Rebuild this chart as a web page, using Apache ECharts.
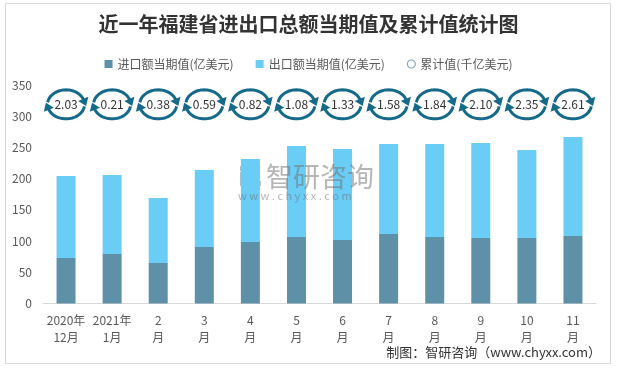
<!DOCTYPE html>
<html>
<head>
<meta charset="utf-8">
<script src="https://cdn.jsdelivr.net/npm/echarts@6/dist/echarts.min.js"></script>
<style>
html,body{margin:0;padding:0;background:#fff;}
#chart{width:617px;height:369px;}
</style>
</head>
<body>
<div id="chart"></div>
<script>
// ---- data ----
const categories = ['2020年\n12月','2021年\n1月','2\n月','3\n月','4\n月','5\n月','6\n月','7\n月','8\n月','9\n月','10\n月','11\n月'];
const importValues = [72.9, 79.3, 64.9, 90.5, 98.5, 106.5, 101.7, 111.3, 106.5, 104.9, 104.9, 108.1];
const exportValues = [131.3, 126.5, 104.1, 123.3, 133.0, 145.8, 145.8, 144.2, 149.0, 152.1, 141.0, 158.6];
const cumulativeValues = [2.03, 0.21, 0.38, 0.59, 0.82, 1.08, 1.33, 1.58, 1.84, 2.10, 2.35, 2.61];
const yTicks = [0, 50, 100, 150, 200, 250, 300, 350];

const ICON_Y = 319; // vertical placement of the cycle icons (axis units)
const ICON_COLOR = '#17698a';
const FONT = '"Noto Sans CJK SC", "Noto Sans", sans-serif';

function ellPt(cx, cy, rx, ry, t) {
  return [cx + rx * Math.cos(t), cy - ry * Math.sin(t)];
}
function arcWithHead(cx, cy, rx, ry, t0, t1) {
  const pts = [];
  const n = 30;
  for (let i = 0; i <= n; i++) {
    const t = t0 + (t1 - t0) * i / n;
    pts.push(ellPt(cx, cy, rx, ry, t));
  }
  const P = ellPt(cx, cy, rx, ry, t1);
  let dx = rx * Math.sin(t1), dy = ry * Math.cos(t1);
  const L = Math.hypot(dx, dy); dx /= L; dy /= L;
  const nx = -dy, ny = dx;
  const tip = [P[0] + dx * 6.5, P[1] + dy * 6.5];
  const bc = [P[0] - dx * 1, P[1] - dy * 1];
  const head = [tip, [bc[0] + nx * 5.5, bc[1] + ny * 5.5], [bc[0] - nx * 5.5, bc[1] - ny * 5.5]];
  return [
    {type: 'polyline', shape: {points: pts}, style: {stroke: ICON_COLOR, lineWidth: 3, fill: null}},
    {type: 'polygon', shape: {points: head}, style: {fill: ICON_COLOR}}
  ];
}

const chart = echarts.init(document.getElementById('chart'), null, {renderer: 'canvas'});
const deg = Math.PI / 180;

const option = {
  backgroundColor: '#fff',
  animation: false,
  title: {
    text: '近一年福建省进出口总额当期值及累计值统计图',
    left: 'center', top: 9,
    textStyle: {fontFamily: FONT, fontSize: 20, fontWeight: 'bold', color: '#333'}
  },
  legend: {
    top: 53, left: 'center',
    itemWidth: 8, itemHeight: 8, itemGap: 22,
    textStyle: {fontFamily: FONT, fontSize: 12, color: '#595959'},
    data: [
      {name: '进口额当期值(亿美元)', icon: 'rect'},
      {name: '出口额当期值(亿美元)', icon: 'rect'},
      {name: '累计值(千亿美元)', icon: 'circle', itemStyle: {color: '#ffffff', borderColor: '#8fa8bb', borderWidth: 1.2}}
    ]
  },
  grid: {left: 43, right: 21, top: 85, bottom: 65.5},
  xAxis: {
    type: 'category', data: categories,
    axisLine: {lineStyle: {color: '#d9d9d9'}},
    axisTick: {show: false},
    axisLabel: {fontFamily: FONT, fontSize: 12, color: '#595959', lineHeight: 17, interval: 0, margin: 8}
  },
  yAxis: {
    type: 'value', min: yTicks[0], max: yTicks[yTicks.length - 1], interval: 50,
    axisLine: {show: false}, axisTick: {show: false}, splitLine: {show: false},
    axisLabel: {fontFamily: FONT, fontSize: 12, color: '#595959', margin: 11}
  },
  series: [
    {name: '进口额当期值(亿美元)', type: 'bar', stack: 't', barWidth: 19, data: importValues, itemStyle: {color: '#5e91a8'}},
    {name: '出口额当期值(亿美元)', type: 'bar', stack: 't', barWidth: 19, data: exportValues, itemStyle: {color: '#6acdf5'}},
    {
      name: '累计值(千亿美元)', type: 'custom',
      itemStyle: {color: '#8fa8bb'},
      data: cumulativeValues.map((v, i) => [i, v]),
      renderItem: function (params, api) {
        const c = api.coord([api.value(0), ICON_Y]);
        const cx = c[0], cy = c[1], rx = 18.5, ry = 14.5;
        const children = []
          .concat(arcWithHead(cx, cy, rx, ry, 172 * deg, 18 * deg))
          .concat(arcWithHead(cx, cy, rx, ry, -8 * deg, -162 * deg));
        children.push({
          type: 'text',
          style: {
            text: Number(api.value(1)).toFixed(2), x: cx, y: cy,
            align: 'center', verticalAlign: 'middle',
            fontFamily: FONT, fontSize: 12, fill: '#333'
          }
        });
        return {type: 'group', children: children};
      }
    }
  ],
  graphic: [
    {type: 'rect', shape: {x: 5.5, y: 3.5, width: 605, height: 360}, style: {fill: null, stroke: '#d9d9d9', lineWidth: 1}, z: -1},
    // watermark
    {type: 'group', left: 240, top: 166, z: 50, children: [
      {type: 'rect', shape: {x: 0, y: 0, width: 20, height: 5}, style: {fill: 'rgba(120,145,175,0.6)'}},
      {type: 'rect', shape: {x: 15, y: 0, width: 5, height: 12}, style: {fill: 'rgba(120,145,175,0.6)'}},
      {type: 'rect', shape: {x: 4, y: 8, width: 14, height: 4}, style: {fill: 'rgba(120,145,175,0.6)'}},
      {type: 'rect', shape: {x: 0, y: 6, width: 5, height: 14}, style: {fill: 'rgba(120,145,175,0.6)'}},
      {type: 'rect', shape: {x: 4, y: 15, width: 17, height: 5}, style: {fill: 'rgba(120,145,175,0.6)'}}
    ]},
    {type: 'text', left: 266, top: 163, z: 50, style: {text: '智研咨询', fontFamily: FONT, fontSize: 27, fill: 'rgba(110,110,110,0.5)'}},
    {type: 'text', left: 238, top: 190, z: 50, style: {text: 'w w w . c h y x x . c o m', fontFamily: FONT, fontSize: 11, fill: 'rgba(110,110,110,0.5)'}},
    // source
    {type: 'text', right: 16, top: 346, style: {text: '制图：智研咨询（www.chyxx.com）', fontFamily: FONT, fontSize: 13, fill: '#333'}}
  ]
};
chart.setOption(option);
</script>
</body>
</html>
